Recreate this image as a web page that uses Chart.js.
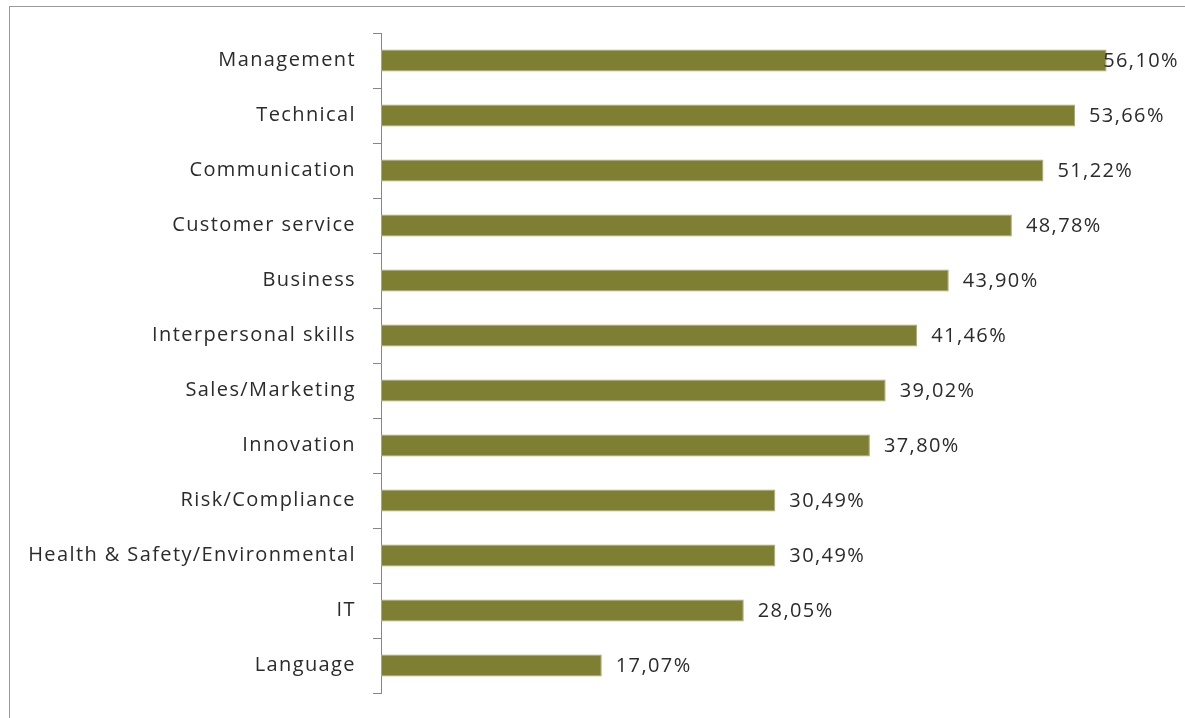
<!DOCTYPE html>
<html>
<head>
<meta charset="utf-8">
<script src="https://cdn.jsdelivr.net/npm/chart.js@4.4.1/dist/chart.umd.min.js"></script>
<style>
    html, body { margin: 0; padding: 0; background: #fff; overflow: hidden; }
    #wrap { position: absolute; left: 0; top: 0; width: 1185px; height: 718px; }
    #frame {
        position: absolute; left: 9px; top: 6px; width: 1200px; height: 740px;
        border-left: 1px solid #9a9a9a; border-top: 1px solid #9a9a9a;
    }
    canvas { position: absolute; left: 0; top: 0; }
</style>
</head>
<body>
<div id="wrap">
    <div id="frame"></div>
    <canvas id="myChart" width="1185" height="718"></canvas>
</div>
<script>
const skills = [
    'Management', 'Technical', 'Communication', 'Customer service', 'Business',
    'Interpersonal skills', 'Sales/Marketing', 'Innovation', 'Risk/Compliance',
    'Health & Safety/Environmental', 'IT', 'Language'
];
const shares = [56.10, 53.66, 51.22, 48.78, 43.90, 41.46, 39.02, 37.80, 30.49, 30.49, 28.05, 17.07];
const axisMax = 60;

const FONT = '"Open Sans", sans-serif';
const TEXT = '#2b2b2b';
const SPACING = '1.4px';

const fmtPct = (v) => v.toFixed(2).replace('.', ',') + '%';

// a little tracking on every piece of text, set before anything is drawn
const wideText = {
    id: 'wideText',
    beforeDraw(chart) {
        chart.ctx.letterSpacing = SPACING;
    }
};

// value labels to the right of each bar, pulled back if they would run off the frame
const valueLabels = {
    id: 'valueLabels',
    afterDatasetsDraw(chart) {
        const { ctx } = chart;
        const meta = chart.getDatasetMeta(0);
        ctx.save();
        ctx.letterSpacing = SPACING;
        ctx.font = '20px ' + FONT;
        ctx.fillStyle = TEXT;
        ctx.textBaseline = 'middle';
        ctx.textAlign = 'left';
        meta.data.forEach((bar, i) => {
            const txt = fmtPct(shares[i]);
            const w = ctx.measureText(txt).width;
            let x = bar.x + 14;
            if (x + w > 1179) x = 1179 - w;
            ctx.fillText(txt, x, bar.y + 1);
        });
        ctx.restore();
    }
};

const createSkillsChart = () => {
    const ctx = document.getElementById('myChart');
    new Chart(ctx, {
        type: 'bar',
        data: {
            labels: skills,
            datasets: [{
                data: shares,
                backgroundColor: '#7f7f33',
                borderColor: '#a9a978',
                borderWidth: 1,
                borderSkipped: false,
                barPercentage: 0.4,
                categoryPercentage: 1
            }]
        },
        options: {
            indexAxis: 'y',
            responsive: false,
            animation: false,
            layout: { padding: { left: 0, top: 33, bottom: 25, right: 28 } },
            plugins: {
                legend: { display: false },
                tooltip: { enabled: false }
            },
            scales: {
                x: { display: false, min: 0, max: axisMax },
                y: {
                    afterFit: (scale) => {
                        scale.width = 381;
                        // let the layout padding alone decide the top and bottom
                        scale.paddingTop = 0;
                        scale.paddingBottom = 0;
                    },
                    border: { display: true, color: '#868686', width: 1 },
                    grid: {
                        drawOnChartArea: false,
                        drawTicks: true,
                        tickLength: 8,
                        color: '#868686',
                        offset: true
                    },
                    ticks: {
                        padding: 17,
                        color: TEXT,
                        font: { family: FONT, size: 20 }
                    }
                }
            }
        },
        plugins: [wideText, valueLabels]
    });
};

(function () {
    createSkillsChart();
})();
</script>
</body>
</html>
